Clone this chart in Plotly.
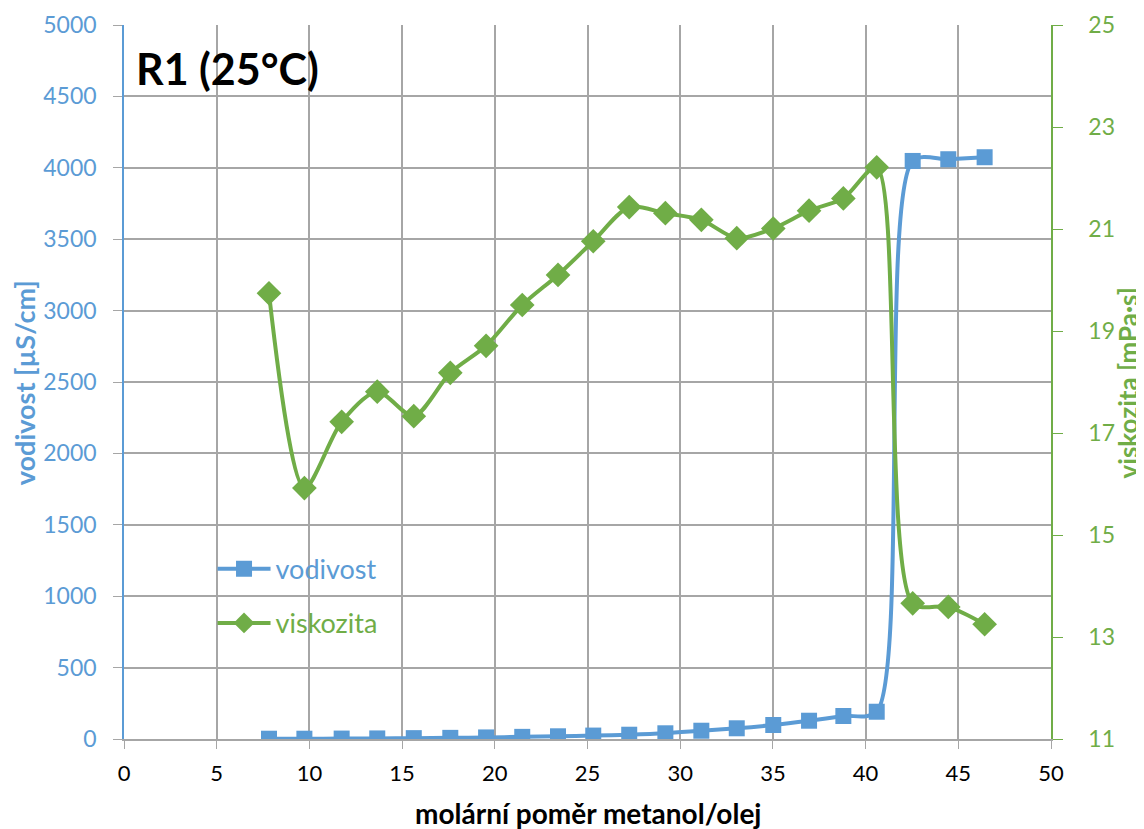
import plotly.graph_objects as go

# molar ratio methanol/oil
ratio = [7.82, 9.73, 11.74, 13.66, 15.63, 17.60, 19.53, 21.48, 23.41, 25.31, 27.25,
         29.20, 31.14, 33.05, 35.02, 36.95, 38.80, 40.60, 42.54, 44.46, 46.42]
# conductivity [µS/cm]
vodivost = [2, 2, 3, 4, 6, 8, 11, 15, 19, 24, 30,
            40, 58, 75, 98, 128, 161, 191, 4048, 4060, 4074]
# viscosity [mPa·s]
viskozita = [19.74, 15.92, 17.22, 17.81, 17.33, 18.18, 18.71, 19.51, 20.10, 20.76, 21.43,
             21.31, 21.18, 20.82, 21.01, 21.36, 21.60, 22.21, 13.66, 13.59, 13.25]

BLUE = "#5b9bd5"
GREEN = "#70ad47"
GRID = "#a6a6a6"
FONT = "Lato, 'Open Sans', sans-serif"

fig = go.Figure()
fig.add_trace(go.Scatter(
    x=ratio, y=vodivost, name="<span style='color:%s'>vodivost</span>" % BLUE,
    mode="lines+markers", line=dict(color=BLUE, width=4, shape="spline", smoothing=0.8),
    marker=dict(symbol="square", size=16, color=BLUE), legendgroup="a", yaxis="y"))
fig.add_trace(go.Scatter(
    x=ratio, y=viskozita, name="<span style='color:%s'>viskozita</span>" % GREEN,
    mode="lines+markers", line=dict(color=GREEN, width=4, shape="spline", smoothing=0.8),
    marker=dict(symbol="diamond", size=19, color=GREEN), legendgroup="b", yaxis="y2"))

fig.update_layout(
    width=1136, height=821,
    margin=dict(l=116, r=93, t=17, b=90),
    paper_bgcolor="white", plot_bgcolor="white",
    font=dict(family=FONT, size=22, color="black"),
    showlegend=True,
    legend=dict(x=0.0955, y=0.272, xanchor="left", yanchor="top",
                bgcolor="rgba(0,0,0,0)", font=dict(size=27, family=FONT),
                tracegroupgap=16, traceorder="grouped", itemwidth=53),
    xaxis=dict(range=[0, 50], dtick=5, tick0=0, showgrid=True, gridcolor=GRID, gridwidth=1.5,
               showline=True, linecolor=GRID, linewidth=1.5, ticks="outside", ticklen=8,
               tickcolor=GRID, zeroline=False, automargin=False, ticklabelstandoff=6,
               tickfont=dict(size=22, color="black", family=FONT)),
    yaxis=dict(range=[0, 5000], dtick=500, showgrid=True, gridcolor=GRID, gridwidth=1.5,
               showline=True, linecolor=BLUE, linewidth=1.5, ticks="outside", ticklen=9,
               tickcolor=GRID, zeroline=False, automargin=False, ticklabelstandoff=12,
               tickfont=dict(size=23, color=BLUE, family=FONT)),
    yaxis2=dict(range=[11, 25], dtick=2, tick0=11, overlaying="y", side="right", showgrid=False,
                showline=True, linecolor=GREEN, linewidth=1.5, ticks="outside", ticklen=10,
                tickcolor=GREEN, zeroline=False, automargin=False, ticklabelstandoff=21,
                tickfont=dict(size=23, color=GREEN, family=FONT)),
    annotations=[
        dict(text="<b>R1 (25°C)</b>", xref="paper", yref="paper",
             x=0.011, y=0.977, xanchor="left", yanchor="top", showarrow=False,
             font=dict(size=43, color="black", family=FONT)),
        dict(text="<b>molární poměr metanol/olej</b>", xref="paper", yref="paper",
             x=0.5, y=-0.1036, xanchor="center", yanchor="middle", showarrow=False,
             font=dict(size=28, color="black", family=FONT)),
        dict(text="<b>vodivost [µS/cm]</b>", xref="paper", yref="paper", textangle=-90,
             x=-0.1065, y=0.4986, xanchor="center", yanchor="middle", showarrow=False,
             font=dict(size=27, color=BLUE, family=FONT)),
        dict(text="<b>viskozita [mPa·s]</b>", xref="paper", yref="paper", textangle=-90,
             x=1.0835, y=0.4986, xanchor="center", yanchor="middle", showarrow=False,
             font=dict(size=26, color=GREEN, family=FONT)),
    ],
)

fig.write_html("out.html")
